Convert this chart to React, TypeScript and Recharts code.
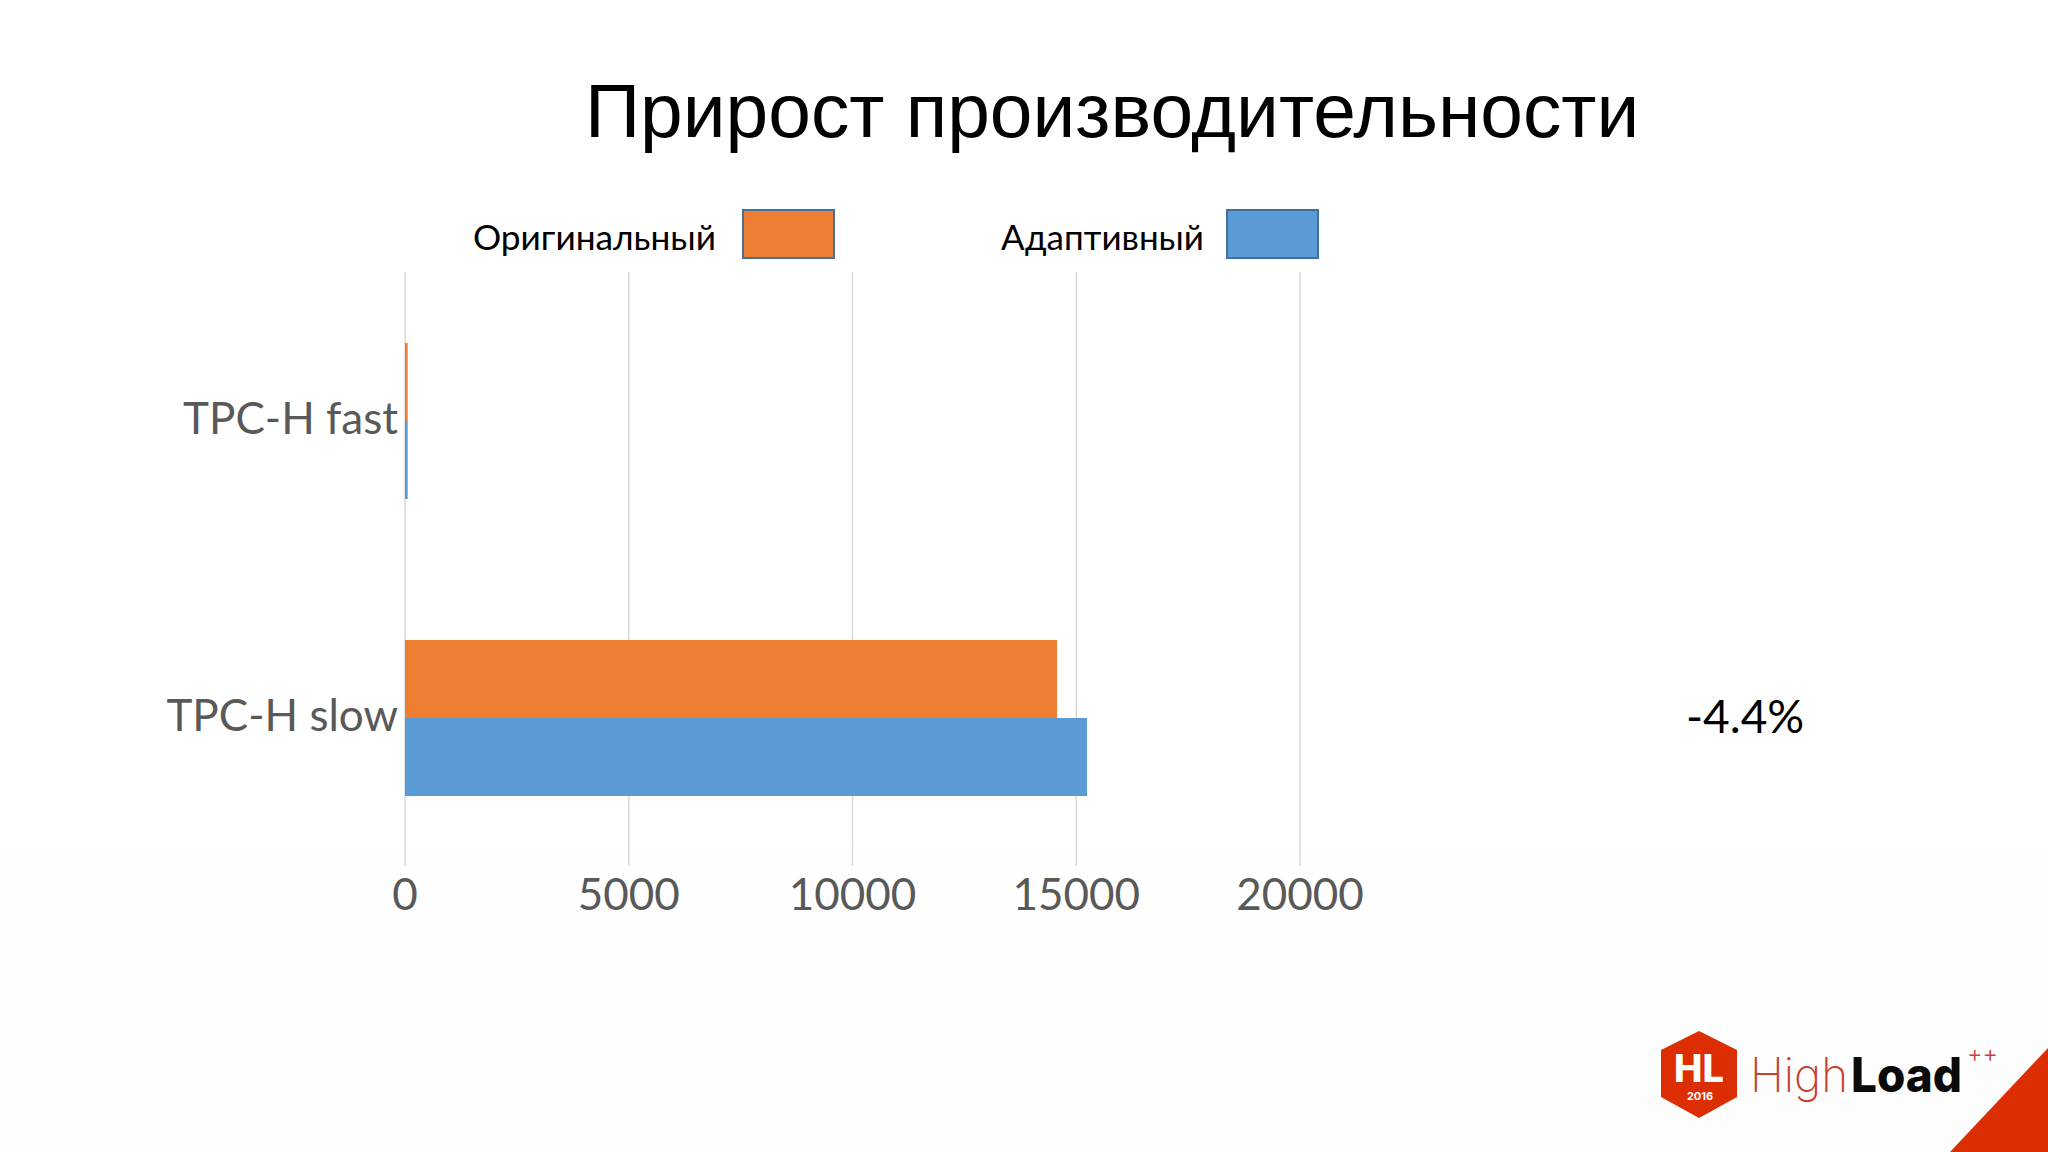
import React from "react";
import { BarChart, Bar, XAxis, YAxis, CartesianGrid, Legend } from "recharts";

const categories = ["TPC-H fast", "TPC-H slow"];
const originalValues = [60, 14570];
const adaptiveValues = [60, 15240];
const valueTicks = [0, 5000, 10000, 15000, 20000];
const seriesNames = ["Оригинальный", "Адаптивный"];
const titleText = "Прирост производительности";
const deltaText = "-4.4%";

const ORANGE = "#ec7d31";
const BLUE = "#5b9bd5";
const RED = "#dc2e02";
const FONT = "Lato, 'Noto Sans', sans-serif";

const rows = categories.map((name, i) => ({
  name,
  original: originalValues[i],
  adaptive: adaptiveValues[i],
}));

const legendLayout = [
  { textLeft: 473, textWidth: 243, swatch: 743, color: ORANGE },
  { textLeft: 1001, textWidth: 203, swatch: 1227, color: BLUE },
];

function LegendContent() {
  return (
    <svg width={2048} height={272} style={{ display: "block" }}>
      {seriesNames.map((n, i) => {
        const l = legendLayout[i];
        return (
          <g key={n}>
            <text
              x={l.textLeft}
              y={250}
              fontFamily={FONT}
              fontSize={34}
              fill="#000"
              textLength={l.textWidth}
              lengthAdjust="spacingAndGlyphs"
            >
              {n}
            </text>
            <rect x={l.swatch} y={210} width={91} height={48} fill={l.color} stroke="#41719c" strokeWidth={2} />
          </g>
        );
      })}
    </svg>
  );
}

function YTick(props: any) {
  const { y, payload } = props;
  return (
    <text x={398} y={y + 13} textAnchor="end" fontFamily={FONT} fontSize={44} fill="#595959">
      {payload.value}
    </text>
  );
}

function XTick(props: any) {
  const { x, payload } = props;
  return (
    <text x={x} y={910} textAnchor="middle" fontFamily={FONT} fontSize={44} fill="#595959">
      {payload.value}
    </text>
  );
}

export default function App() {
  return (
    <div style={{ position: "absolute", left: 0, top: 0, width: 2048, height: 1152, background: "linear-gradient(#ffffff 70%, #fdfdfd)", overflow: "hidden" }}>
      <BarChart
        width={2048}
        height={1152}
        data={rows}
        layout="vertical"
        barGap={0}
        barSize={78}
        margin={{ top: 272, right: 748, bottom: 0, left: 0 }}
      >
        <CartesianGrid vertical horizontal={false} stroke="#d9d9d9" strokeWidth={1.5} />
        <XAxis
          type="number"
          domain={[0, 20000]}
          ticks={valueTicks}
          height={286}
          axisLine={false}
          tickLine={false}
          tick={<XTick />}
          interval={0}
        />
        <YAxis
          type="category"
          dataKey="name"
          width={405}
          axisLine={false}
          tickLine={false}
          tick={<YTick />}
          interval={0}
        />
        <Legend
          layout="horizontal"
          verticalAlign="middle"
          content={<LegendContent />}
          wrapperStyle={{ left: 0, top: 0, width: 2048, height: 272 }}
        />
        <Bar dataKey="original" name={seriesNames[0]} fill={ORANGE} isAnimationActive={false} />
        <Bar dataKey="adaptive" name={seriesNames[1]} fill={BLUE} isAnimationActive={false} />
      </BarChart>
      <svg width={2048} height={1152} style={{ position: "absolute", left: 0, top: 0, pointerEvents: "none" }}>
        <text x={585} y={137} fontFamily="'Liberation Sans', Arial, sans-serif" fontSize={76.7} fill="#000">
          {titleText}
        </text>
        <text x={1686} y={733} fontFamily={FONT} fontSize={46} fill="#000">
          {deltaText}
        </text>
        <polygon points="1950,1152 2048,1048 2048,1152" fill={RED} />
        <polygon points="1699,1031 1737,1050 1737,1097 1699,1118 1661,1097 1661,1050" fill={RED} />
        <text x={1699} y={1082} textAnchor="middle" fontFamily="Inter, sans-serif" fontWeight={800} fontSize={38} fill="#fff">HL</text>
        <text x={1700} y={1100} textAnchor="middle" fontFamily="Inter, sans-serif" fontWeight={700} fontSize={11} fill="#fff">2016</text>
        <text x={1750} y={1092} fontFamily="Inter, sans-serif" fontWeight={200} fontSize={48} fill="#c8402e" textLength={98} lengthAdjust="spacingAndGlyphs">High</text>
        <text x={1851} y={1092} fontFamily="Inter, sans-serif" fontWeight={800} fontSize={48} fill="#0a0a0a" textLength={111} lengthAdjust="spacingAndGlyphs">Load</text>
        <text x={1967} y={1062} fontFamily="Inter, sans-serif" fontWeight={300} fontSize={24} fill="#c8402e" textLength={31} lengthAdjust="spacingAndGlyphs">++</text>
      </svg>
    </div>
  );
}
